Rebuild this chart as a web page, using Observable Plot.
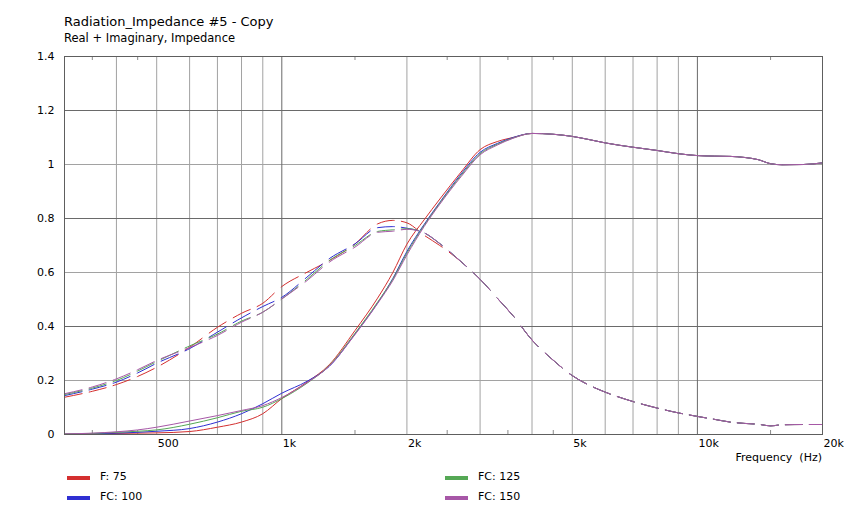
<!DOCTYPE html>
<html><head><meta charset="utf-8">
<script src="https://cdn.jsdelivr.net/npm/d3@7"></script>
<script src="https://cdn.jsdelivr.net/npm/@observablehq/plot@0.6"></script>
<style>
body{margin:0;background:#fff;font-family:"DejaVu Sans",sans-serif;color:#000;}
#wrap{position:relative;width:844px;height:530px;overflow:hidden;background:#fff;}
#wrap svg{position:absolute;left:0;top:0;}
.t{position:absolute;white-space:nowrap;line-height:1;}
.sw{position:absolute;width:23px;height:4px;}
</style></head><body><div id="wrap"></div>
<script>
// ---- data ----
const seriesNames = ["F: 75", "FC: 100", "FC: 125", "FC: 150"];
const seriesColors = ["#d42f2f", "#2f2fd2", "#55a855", "#a757a7"];
const freq = [300, 350, 400, 450, 500, 600, 700, 800, 900, 1000, 1150, 1300, 1500, 1700, 1850, 2000, 2200, 2400, 2700, 3000, 3300, 3600, 4000, 4500, 5000, 5500, 6000, 7000, 8000, 9000, 10000, 11000, 12000, 13000, 14000, 15000, 16000, 18000, 20000];

// Real part (solid)
const realF75   = [0.001, 0.002, 0.004, 0.005, 0.006, 0.011, 0.027, 0.046, 0.077, 0.133, 0.194, 0.258, 0.385, 0.505, 0.600, 0.705, 0.795, 0.872, 0.972, 1.055, 1.085, 1.100, 1.115, 1.112, 1.104, 1.092, 1.080, 1.064, 1.052, 1.040, 1.033, 1.031, 1.030, 1.026, 1.018, 1.003, 0.999, 1.000, 1.006];
const realFC100 = [0.001, 0.003, 0.005, 0.008, 0.012, 0.022, 0.046, 0.077, 0.114, 0.153, 0.197, 0.252, 0.372, 0.487, 0.578, 0.678, 0.778, 0.860, 0.965, 1.045, 1.078, 1.100, 1.115, 1.112, 1.104, 1.092, 1.080, 1.064, 1.052, 1.040, 1.033, 1.031, 1.030, 1.026, 1.018, 1.003, 0.999, 1.000, 1.006];
const realFC125 = [0.002, 0.004, 0.008, 0.012, 0.017, 0.038, 0.062, 0.086, 0.101, 0.133, 0.190, 0.255, 0.375, 0.490, 0.575, 0.672, 0.774, 0.857, 0.960, 1.040, 1.075, 1.098, 1.115, 1.112, 1.104, 1.092, 1.080, 1.064, 1.052, 1.040, 1.033, 1.031, 1.030, 1.026, 1.018, 1.003, 0.999, 1.000, 1.006];
const realFC150 = [0.002, 0.005, 0.010, 0.017, 0.027, 0.050, 0.070, 0.089, 0.107, 0.137, 0.192, 0.253, 0.370, 0.485, 0.570, 0.665, 0.770, 0.853, 0.955, 1.036, 1.072, 1.097, 1.115, 1.112, 1.104, 1.092, 1.080, 1.064, 1.052, 1.040, 1.033, 1.031, 1.030, 1.026, 1.018, 1.003, 0.999, 1.000, 1.006];

// Imaginary part (dashed)
const imagF75   = [0.138, 0.160, 0.185, 0.215, 0.249, 0.323, 0.397, 0.449, 0.486, 0.548, 0.601, 0.644, 0.706, 0.780, 0.793, 0.784, 0.738, 0.700, 0.640, 0.575, 0.505, 0.440, 0.350, 0.275, 0.218, 0.182, 0.157, 0.122, 0.098, 0.080, 0.067, 0.056, 0.046, 0.041, 0.038, 0.032, 0.036, 0.037, 0.037];
const imagFC100 = [0.144, 0.168, 0.194, 0.228, 0.264, 0.318, 0.379, 0.432, 0.474, 0.508, 0.583, 0.651, 0.706, 0.766, 0.770, 0.764, 0.747, 0.707, 0.640, 0.575, 0.505, 0.440, 0.350, 0.275, 0.218, 0.182, 0.157, 0.122, 0.098, 0.080, 0.067, 0.056, 0.046, 0.041, 0.038, 0.032, 0.036, 0.037, 0.037];
const imagFC125 = [0.148, 0.172, 0.200, 0.235, 0.270, 0.328, 0.372, 0.420, 0.453, 0.502, 0.575, 0.644, 0.700, 0.752, 0.758, 0.762, 0.747, 0.707, 0.640, 0.575, 0.505, 0.440, 0.350, 0.275, 0.218, 0.182, 0.157, 0.122, 0.098, 0.080, 0.067, 0.056, 0.046, 0.041, 0.038, 0.032, 0.036, 0.037, 0.037];
const imagFC150 = [0.151, 0.176, 0.206, 0.240, 0.274, 0.322, 0.367, 0.416, 0.453, 0.502, 0.570, 0.638, 0.694, 0.749, 0.753, 0.760, 0.747, 0.707, 0.640, 0.575, 0.505, 0.440, 0.350, 0.275, 0.218, 0.182, 0.157, 0.122, 0.098, 0.080, 0.067, 0.056, 0.046, 0.041, 0.038, 0.032, 0.036, 0.037, 0.037];

// tick labels / grid
const xLabelTicks = [500, 1000, 2000, 5000, 10000, 20000];
const xLabelText = ["500", "1k", "2k", "5k", "10k", "20k"];
const xGridMinor = [400, 500, 600, 700, 800, 900, 2000, 3000, 4000, 5000, 6000, 7000, 8000, 9000];
const xGridMajor = [1000, 10000];
const xSmallTicks = [350, 450, 1500, 2500, 3500, 4500, 15000];
const yTicks = [0, 0.2, 0.4, 0.6, 0.8, 1, 1.2, 1.4];
const yTickText = ["0", "0.2", "0.4", "0.6", "0.8", "1", "1.2", "1.4"];
const yGridLight = [0.2, 0.6, 1.0];
const yGridDark = [0.4, 0.8, 1.2];

// ---- build table ----
const realSets = [realF75, realFC100, realFC125, realFC150];
const imagSets = [imagF75, imagFC100, imagFC125, imagFC150];
const realRows = [], imagRows = [];
seriesNames.forEach((name, i) => {
  freq.forEach((f, j) => {
    realRows.push({series: name, freq: f, value: realSets[i][j]});
    imagRows.push({series: name, freq: f, value: imagSets[i][j]});
  });
});

const yMax = 1.4;
const tickLen = 4 / 378 * yMax;

const chart = Plot.plot({
  width: 844, height: 530,
  marginTop: 56, marginLeft: 64, marginRight: 22, marginBottom: 96,
  style: {fontFamily: "DejaVu Sans, sans-serif", fontSize: "11px", background: "transparent", color: "#000", overflow: "visible"},
  x: {type: "log", domain: [300, 20000]},
  y: {domain: [0, yMax]},
  color: {domain: seriesNames, range: seriesColors},
  marks: [
    Plot.ruleX(xGridMinor, {stroke: "#a2a2a2", strokeWidth: 1}),
    Plot.ruleY(yGridLight, {stroke: "#a2a2a2", strokeWidth: 1}),
    Plot.ruleX(xGridMajor, {stroke: "#6a6a6a", strokeWidth: 1}),
    Plot.ruleY(yGridDark, {stroke: "#6a6a6a", strokeWidth: 1}),
    Plot.ruleX(xSmallTicks, {y1: 0, y2: tickLen, stroke: "#8a8a8a"}),
    Plot.ruleX(xSmallTicks, {y1: yMax, y2: yMax - tickLen, stroke: "#8a8a8a"}),
    Plot.line(realRows, {x: "freq", y: "value", z: "series", stroke: "series", strokeWidth: 1, curve: "monotone-x"}),
    Plot.line(imagRows, {x: "freq", y: "value", z: "series", stroke: "series", strokeWidth: 1, strokeDasharray: "17,7", curve: "monotone-x", className: "imag-lines"}),
    Plot.frame({stroke: "#5e5e5e", strokeWidth: 1}),
    Plot.axisX(xLabelTicks, {tickSize: 0, tickPadding: 5, textAnchor: "start", dx: 1, tickFormat: (d) => xLabelText[xLabelTicks.indexOf(d)], label: null}),
    Plot.axisY(yTicks, {tickSize: 0, tickPadding: 10, tickFormat: (d) => yTickText[yTicks.indexOf(d)], label: null})
  ]
});

const wrap = document.getElementById("wrap");
wrap.appendChild(chart);

// dashes aligned on horizontal position (as in the original renderer)
const period = 24, dashLen = 17, x0 = 64.5;
chart.querySelectorAll("g.imag-lines path").forEach((p) => {
  const total = p.getTotalLength();
  const step = 0.25;
  const segs = [];
  let prevOn = null, lastL = 0;
  for (let L = 0; L <= total; L += step) {
    const pt = p.getPointAtLength(L);
    const ph = (((pt.x - x0) % period) + period) % period;
    const on = ph < dashLen;
    if (prevOn === null) { if (!on) segs.push(0); prevOn = on; lastL = 0; continue; }
    if (on !== prevOn) { segs.push(+(L - lastL).toFixed(2)); lastL = L; prevOn = on; }
  }
  segs.push(+(total - lastL + 1).toFixed(2));
  if (segs.length % 2) segs.push(total);
  p.setAttribute("stroke-dasharray", segs.join(","));
});

function addText(txt, left, top, size, extra) {
  const d = document.createElement("div");
  d.className = "t";
  d.textContent = txt;
  d.style.left = left + "px";
  d.style.top = top + "px";
  d.style.fontSize = size + "px";
  if (extra) Object.assign(d.style, extra);
  wrap.appendChild(d);
  return d;
}
addText("Radiation_Impedance #5 - Copy", 64, 15, 13);
addText("Real + Imaginary, Impedance", 64, 33, 11.5);
addText("Frequency  (Hz)", 0, 452, 11, {left: "auto", right: (844 - 822) + "px", whiteSpace: "pre"});

// legend
const legendPos = [[67, 478], [67, 498], [445, 478], [445, 498]];
seriesNames.forEach((name, i) => {
  const [lx, ly] = legendPos[i];
  const sw = document.createElement("div");
  sw.className = "sw";
  sw.style.left = lx + "px";
  sw.style.top = (ly - 2) + "px";
  sw.style.background = seriesColors[i];
  wrap.appendChild(sw);
  addText(name, lx + 33, ly - 7, 11);
});
</script></body></html>
